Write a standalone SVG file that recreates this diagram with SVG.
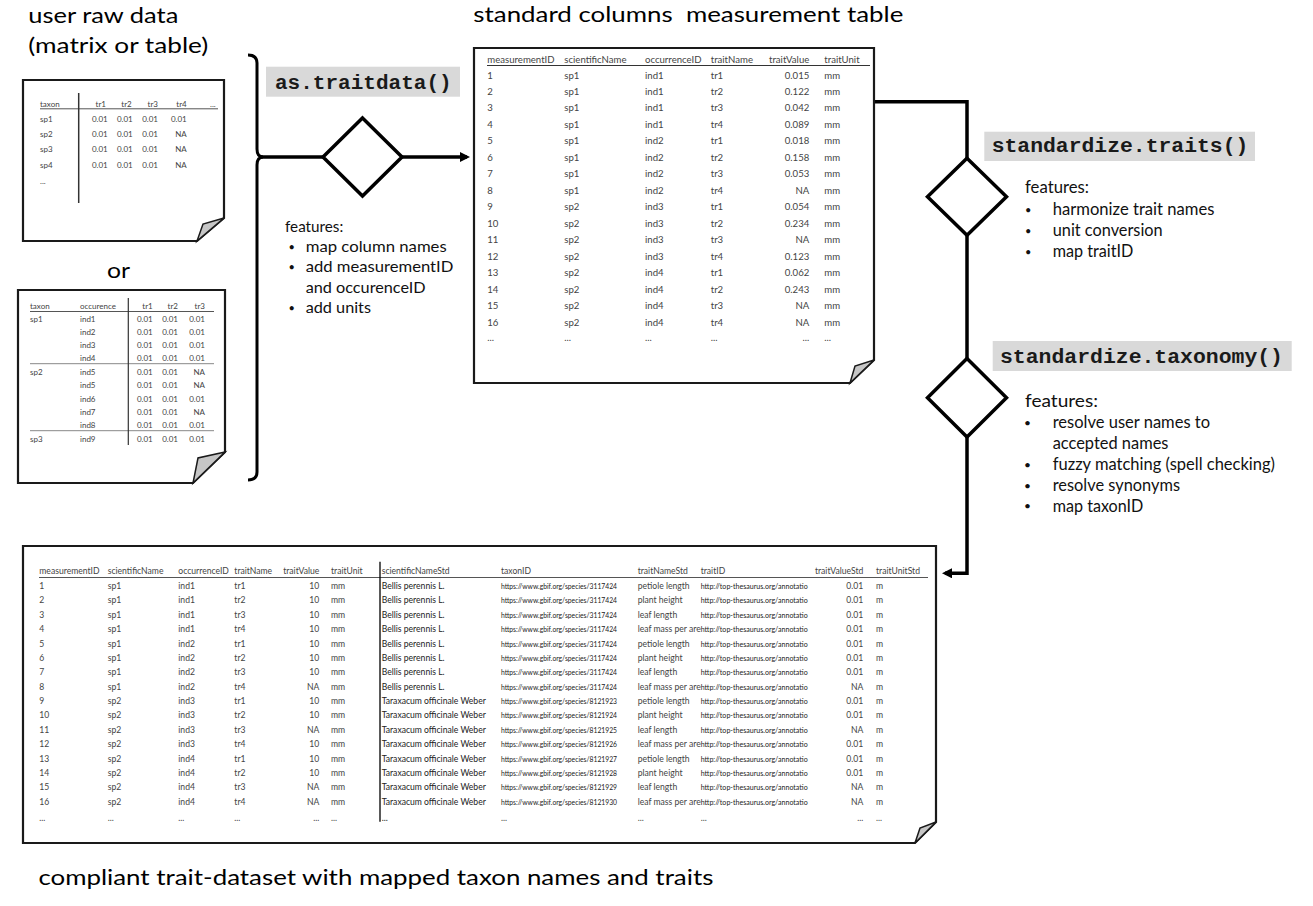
<svg xmlns="http://www.w3.org/2000/svg" width="1313" height="906" viewBox="0 0 1313 906">
<defs>
<style>
.doc{fill:#fff;stroke:#1a1a1a;stroke-width:2.2;stroke-linejoin:miter}
.fold{fill:#c6c6c6;stroke:#1a1a1a;stroke-width:1.5;stroke-linejoin:miter}
.dia{fill:#fff;stroke:#000;stroke-width:3.5;stroke-linejoin:miter}
.conn{fill:none;stroke:#000;stroke-width:3.5;stroke-linejoin:miter}
.brace{fill:none;stroke:#000;stroke-width:3}
text{font-family:Lato,"Liberation Sans",sans-serif}
.big{font-size:22px;fill:#000}
.code{font-family:"Liberation Mono","Courier New",monospace;font-weight:bold;font-size:19.5px;fill:#1a1a1a}
.cbox{fill:#d9d9d9}
.f1{font-size:15px;fill:#111}
.f2{font-size:16.5px;fill:#111}
.f3{font-size:18px;fill:#111}
.bul{font-size:11px;fill:#111}
.ts{font-size:8px;fill:#444}
.tm{font-size:9.6px;fill:#444}
.tb{font-size:8.6px;fill:#444}
.dk{fill:#222}
.url{font-size:6.6px;fill:#1a1a1a}
.r{text-anchor:end}
.hl{stroke:#555;stroke-width:1}
.vl{stroke:#333;stroke-width:1.5}
</style>
<marker id="arr" markerUnits="userSpaceOnUse" markerWidth="10" markerHeight="10" refX="7" refY="5" orient="auto" viewBox="0 0 10 10"><path d="M0,0 L10,5 L0,10 z" fill="#000"/></marker>
</defs>
<rect width="1313" height="906" fill="#fff"/>

<g id="titles">
<text class="big" x="28.3" y="23.3" textLength="150" lengthAdjust="spacingAndGlyphs">user raw data</text>
<text class="big" x="28.3" y="53.3" textLength="180" lengthAdjust="spacingAndGlyphs">(matrix or table)</text>
<text class="big" x="107" y="278" textLength="23" lengthAdjust="spacingAndGlyphs">or</text>
<text class="big" x="473.3" y="21.7" textLength="430" lengthAdjust="spacingAndGlyphs" style="white-space:pre">standard columns  measurement table</text>
<text class="big" x="38.4" y="885" textLength="675" lengthAdjust="spacingAndGlyphs">compliant trait-dataset with mapped taxon names and traits</text>
</g>

<g id="connectors">
<path class="brace" d="M248,55 Q257,55 257,63 V149 Q257,157 263,157 Q257,157 257,165 V472 Q257,480 248,480"/>
<path class="conn" d="M259,157 H323"/>
<path class="conn" d="M402,157 H467" marker-end="url(#arr)"/>
<path class="conn" d="M874,101.7 H967 V158.2"/>
<path class="conn" d="M967,235.2 V358.4"/>
<path class="conn" d="M967,437 V573.3 H945" marker-end="url(#arr)"/>
</g>

<g id="doc-matrix">
<path class="doc" d="M23,80 H224 V218 L197,241 H23 Z"/>
<path class="fold" d="M224,218 L203,224 L197,241 Z"/>
<line class="hl" x1="40" y1="108.8" x2="218" y2="108.8"/>
<line class="vl" x1="78.7" y1="93" x2="78.7" y2="203"/>
<text class="ts" x="40" y="106.7">taxon</text>
<text class="ts r" y="106.7"><tspan x="106">tr1</tspan><tspan x="131.7">tr2</tspan><tspan x="158">tr3</tspan><tspan x="186.7">tr4</tspan></text>
<text class="ts" x="210" y="106.7">...</text>
<text class="ts" y="121.7"><tspan x="40">sp1</tspan><tspan x="40" dy="15.3">sp2</tspan><tspan x="40" dy="15.3">sp3</tspan><tspan x="40" dy="15.3">sp4</tspan><tspan x="40" dy="16.6">...</tspan></text>
<text class="ts r" y="121.7"><tspan x="107.7">0.01</tspan><tspan x="107.7" dy="15.3">0.01</tspan><tspan x="107.7" dy="15.3">0.01</tspan><tspan x="107.7" dy="15.3">0.01</tspan></text>
<text class="ts r" y="121.7"><tspan x="132.7">0.01</tspan><tspan x="132.7" dy="15.3">0.01</tspan><tspan x="132.7" dy="15.3">0.01</tspan><tspan x="132.7" dy="15.3">0.01</tspan></text>
<text class="ts r" y="121.7"><tspan x="158">0.01</tspan><tspan x="158" dy="15.3">0.01</tspan><tspan x="158" dy="15.3">0.01</tspan><tspan x="158" dy="15.3">0.01</tspan></text>
<text class="ts r" y="121.7"><tspan x="186.7">0.01</tspan><tspan x="186.7" dy="15.3">NA</tspan><tspan x="186.7" dy="15.3">NA</tspan><tspan x="186.7" dy="15.3">NA</tspan></text>
</g>

<g id="doc-occurrence">
<path class="doc" d="M18,290 H225 V452 L193,483 H18 Z"/>
<path class="fold" d="M225,452 L198,458 L193,483 Z"/>
<line class="hl" x1="30" y1="311.5" x2="214" y2="311.5"/>
<line class="hl" x1="30" y1="363.7" x2="214" y2="363.7" style="stroke:#888"/>
<line class="hl" x1="30" y1="430.7" x2="214" y2="430.7" style="stroke:#888"/>
<line class="vl" x1="128.3" y1="298" x2="128.3" y2="445" style="stroke-width:1.2"/>
<text class="ts" y="309.3"><tspan x="30">taxon</tspan><tspan x="80">occurence</tspan></text>
<text class="ts r" y="309.3"><tspan x="152.7">tr1</tspan><tspan x="178">tr2</tspan><tspan x="205">tr3</tspan></text>
<text class="ts" x="30"><tspan x="30" y="321.8">sp1</tspan><tspan x="30" y="375.2">sp2</tspan><tspan x="30" y="441.7">sp3</tspan></text>
<text class="ts" y="321.8"><tspan x="80">ind1</tspan><tspan x="80" dy="13.2">ind2</tspan><tspan x="80" dy="13.2">ind3</tspan><tspan x="80" dy="13.2">ind4</tspan><tspan x="80" y="375.2">ind5</tspan><tspan x="80" dy="13.2">ind5</tspan><tspan x="80" dy="13.2">ind6</tspan><tspan x="80" dy="13.2">ind7</tspan><tspan x="80" dy="13.2">ind8</tspan><tspan x="80" y="441.7">ind9</tspan></text>
<text class="ts r" y="321.8"><tspan x="152.7">0.01</tspan><tspan x="152.7" dy="13.2">0.01</tspan><tspan x="152.7" dy="13.2">0.01</tspan><tspan x="152.7" dy="13.2">0.01</tspan><tspan x="152.7" y="375.2">0.01</tspan><tspan x="152.7" dy="13.2">0.01</tspan><tspan x="152.7" dy="13.2">0.01</tspan><tspan x="152.7" dy="13.2">0.01</tspan><tspan x="152.7" dy="13.2">0.01</tspan><tspan x="152.7" y="441.7">0.01</tspan></text>
<text class="ts r" y="321.8"><tspan x="178">0.01</tspan><tspan x="178" dy="13.2">0.01</tspan><tspan x="178" dy="13.2">0.01</tspan><tspan x="178" dy="13.2">0.01</tspan><tspan x="178" y="375.2">0.01</tspan><tspan x="178" dy="13.2">0.01</tspan><tspan x="178" dy="13.2">0.01</tspan><tspan x="178" dy="13.2">0.01</tspan><tspan x="178" dy="13.2">0.01</tspan><tspan x="178" y="441.7">0.01</tspan></text>
<text class="ts r" y="321.8"><tspan x="205">0.01</tspan><tspan x="205" dy="13.2">0.01</tspan><tspan x="205" dy="13.2">0.01</tspan><tspan x="205" dy="13.2">0.01</tspan><tspan x="205" y="375.2">NA</tspan><tspan x="205" dy="13.2">NA</tspan><tspan x="205" dy="13.2">0.01</tspan><tspan x="205" dy="13.2">NA</tspan><tspan x="205" dy="13.2">0.01</tspan><tspan x="205" y="441.7">0.01</tspan></text>
</g>

<g id="node-as-traitdata">
<rect class="cbox" x="266" y="66.7" width="194" height="30"/>
<text class="code" x="275" y="89.3" textLength="176.7" lengthAdjust="spacingAndGlyphs">as.traitdata()</text>
<path class="dia" d="M362.5,118 L402,157 L362.5,196 L323,157 Z"/>
<text class="f1" x="285" y="231.7" textLength="58.3" lengthAdjust="spacingAndGlyphs">features:</text>
<text class="bul" y="251"><tspan x="288.5">•</tspan><tspan x="288.5" dy="20.3">•</tspan><tspan x="288.5" dy="40.6">•</tspan></text>
<text class="f1" x="305.7" y="252" textLength="141" lengthAdjust="spacingAndGlyphs">map column names</text>
<text class="f1" x="305.7" y="272.3" textLength="147.7" lengthAdjust="spacingAndGlyphs">add measurementID</text>
<text class="f1" x="305.7" y="292.7" textLength="120" lengthAdjust="spacingAndGlyphs">and occurenceID</text>
<text class="f1" x="305.7" y="312.9" textLength="65.3" lengthAdjust="spacingAndGlyphs">add units</text>
</g>

<g id="doc-measurement">
<path class="doc" d="M474,48 H874 V360 L850,383 H474 Z"/>
<path class="fold" d="M874,360 L855,366 L850,383 Z"/>
<line class="hl" x1="487" y1="65.5" x2="870" y2="65.5" style="stroke:#333"/>
<text class="tm" y="62.7"><tspan x="487.3">measurementID</tspan><tspan x="564.3">scientificName</tspan><tspan x="645">occurrenceID</tspan><tspan x="710.7">traitName</tspan><tspan x="824.3">traitUnit</tspan></text>
<text class="tm r" x="809.3" y="62.7">traitValue</text>
<text class="tm" y="78.5"><tspan x="487.3">1</tspan><tspan x="487.3" dy="16.47">2</tspan><tspan x="487.3" dy="16.47">3</tspan><tspan x="487.3" dy="16.47">4</tspan><tspan x="487.3" dy="16.47">5</tspan><tspan x="487.3" dy="16.47">6</tspan><tspan x="487.3" dy="16.47">7</tspan><tspan x="487.3" dy="16.47">8</tspan><tspan x="487.3" dy="16.47">9</tspan><tspan x="487.3" dy="16.47">10</tspan><tspan x="487.3" dy="16.47">11</tspan><tspan x="487.3" dy="16.47">12</tspan><tspan x="487.3" dy="16.47">13</tspan><tspan x="487.3" dy="16.47">14</tspan><tspan x="487.3" dy="16.47">15</tspan><tspan x="487.3" dy="16.47">16</tspan><tspan x="487.3" dy="15.3">...</tspan></text>
<text class="tm" y="78.5"><tspan x="564.3">sp1</tspan><tspan x="564.3" dy="16.47">sp1</tspan><tspan x="564.3" dy="16.47">sp1</tspan><tspan x="564.3" dy="16.47">sp1</tspan><tspan x="564.3" dy="16.47">sp1</tspan><tspan x="564.3" dy="16.47">sp1</tspan><tspan x="564.3" dy="16.47">sp1</tspan><tspan x="564.3" dy="16.47">sp1</tspan><tspan x="564.3" dy="16.47">sp2</tspan><tspan x="564.3" dy="16.47">sp2</tspan><tspan x="564.3" dy="16.47">sp2</tspan><tspan x="564.3" dy="16.47">sp2</tspan><tspan x="564.3" dy="16.47">sp2</tspan><tspan x="564.3" dy="16.47">sp2</tspan><tspan x="564.3" dy="16.47">sp2</tspan><tspan x="564.3" dy="16.47">sp2</tspan><tspan x="564.3" dy="15.3">...</tspan></text>
<text class="tm" y="78.5"><tspan x="645">ind1</tspan><tspan x="645" dy="16.47">ind1</tspan><tspan x="645" dy="16.47">ind1</tspan><tspan x="645" dy="16.47">ind1</tspan><tspan x="645" dy="16.47">ind2</tspan><tspan x="645" dy="16.47">ind2</tspan><tspan x="645" dy="16.47">ind2</tspan><tspan x="645" dy="16.47">ind2</tspan><tspan x="645" dy="16.47">ind3</tspan><tspan x="645" dy="16.47">ind3</tspan><tspan x="645" dy="16.47">ind3</tspan><tspan x="645" dy="16.47">ind3</tspan><tspan x="645" dy="16.47">ind4</tspan><tspan x="645" dy="16.47">ind4</tspan><tspan x="645" dy="16.47">ind4</tspan><tspan x="645" dy="16.47">ind4</tspan><tspan x="645" dy="15.3">...</tspan></text>
<text class="tm" y="78.5"><tspan x="710.7">tr1</tspan><tspan x="710.7" dy="16.47">tr2</tspan><tspan x="710.7" dy="16.47">tr3</tspan><tspan x="710.7" dy="16.47">tr4</tspan><tspan x="710.7" dy="16.47">tr1</tspan><tspan x="710.7" dy="16.47">tr2</tspan><tspan x="710.7" dy="16.47">tr3</tspan><tspan x="710.7" dy="16.47">tr4</tspan><tspan x="710.7" dy="16.47">tr1</tspan><tspan x="710.7" dy="16.47">tr2</tspan><tspan x="710.7" dy="16.47">tr3</tspan><tspan x="710.7" dy="16.47">tr4</tspan><tspan x="710.7" dy="16.47">tr1</tspan><tspan x="710.7" dy="16.47">tr2</tspan><tspan x="710.7" dy="16.47">tr3</tspan><tspan x="710.7" dy="16.47">tr4</tspan><tspan x="710.7" dy="15.3">...</tspan></text>
<text class="tm r" y="78.5"><tspan x="809.3">0.015</tspan><tspan x="809.3" dy="16.47">0.122</tspan><tspan x="809.3" dy="16.47">0.042</tspan><tspan x="809.3" dy="16.47">0.089</tspan><tspan x="809.3" dy="16.47">0.018</tspan><tspan x="809.3" dy="16.47">0.158</tspan><tspan x="809.3" dy="16.47">0.053</tspan><tspan x="809.3" dy="16.47">NA</tspan><tspan x="809.3" dy="16.47">0.054</tspan><tspan x="809.3" dy="16.47">0.234</tspan><tspan x="809.3" dy="16.47">NA</tspan><tspan x="809.3" dy="16.47">0.123</tspan><tspan x="809.3" dy="16.47">0.062</tspan><tspan x="809.3" dy="16.47">0.243</tspan><tspan x="809.3" dy="16.47">NA</tspan><tspan x="809.3" dy="16.47">NA</tspan><tspan x="809.3" dy="15.3">...</tspan></text>
<text class="tm" y="78.5"><tspan x="824.3">mm</tspan><tspan x="824.3" dy="16.47">mm</tspan><tspan x="824.3" dy="16.47">mm</tspan><tspan x="824.3" dy="16.47">mm</tspan><tspan x="824.3" dy="16.47">mm</tspan><tspan x="824.3" dy="16.47">mm</tspan><tspan x="824.3" dy="16.47">mm</tspan><tspan x="824.3" dy="16.47">mm</tspan><tspan x="824.3" dy="16.47">mm</tspan><tspan x="824.3" dy="16.47">mm</tspan><tspan x="824.3" dy="16.47">mm</tspan><tspan x="824.3" dy="16.47">mm</tspan><tspan x="824.3" dy="16.47">mm</tspan><tspan x="824.3" dy="16.47">mm</tspan><tspan x="824.3" dy="16.47">mm</tspan><tspan x="824.3" dy="16.47">mm</tspan><tspan x="824.3" dy="15.3">...</tspan></text>
</g>

<g id="node-standardize-traits">
<rect class="cbox" x="984.3" y="131.7" width="270.7" height="29.3"/>
<text class="code" x="991.7" y="151.7" textLength="256.7" lengthAdjust="spacingAndGlyphs">standardize.traits()</text>
<path class="dia" d="M967,158.2 L1006.5,196.7 L967,235.2 L927.5,196.7 Z"/>
<text class="f2" x="1025" y="193.3" textLength="64" lengthAdjust="spacingAndGlyphs">features:</text>
<text class="bul" y="214"><tspan x="1025">•</tspan><tspan x="1025" dy="21">•</tspan><tspan x="1025" dy="20.7">•</tspan></text>
<text class="f2" x="1052.7" y="215" textLength="161.7" lengthAdjust="spacingAndGlyphs">harmonize trait names</text>
<text class="f2" x="1052.7" y="236" textLength="110" lengthAdjust="spacingAndGlyphs">unit conversion</text>
<text class="f2" x="1052.7" y="256.7" textLength="80.7" lengthAdjust="spacingAndGlyphs">map traitID</text>
</g>

<g id="node-standardize-taxonomy">
<rect class="cbox" x="992.7" y="341" width="299" height="30"/>
<text class="code" x="1000" y="363.3" textLength="283" lengthAdjust="spacingAndGlyphs">standardize.taxonomy()</text>
<path class="dia" d="M967,358.4 L1006.5,397.7 L967,437 L927.5,397.7 Z"/>
<text class="f3" x="1025" y="407.3" textLength="73" lengthAdjust="spacingAndGlyphs">features:</text>
<text class="bul" y="427" style="font-size:12px"><tspan x="1024">•</tspan><tspan x="1024" dy="41.7">•</tspan><tspan x="1024" dy="21">•</tspan><tspan x="1024" dy="20.7">•</tspan></text>
<text class="f3" x="1052.7" y="428.3" textLength="157.3" lengthAdjust="spacingAndGlyphs">resolve user names to</text>
<text class="f3" x="1052.7" y="449.3" textLength="115.7" lengthAdjust="spacingAndGlyphs">accepted names</text>
<text class="f3" x="1052.7" y="470" textLength="222.3" lengthAdjust="spacingAndGlyphs">fuzzy matching (spell checking)</text>
<text class="f3" x="1052.7" y="491" textLength="127.3" lengthAdjust="spacingAndGlyphs">resolve synonyms</text>
<text class="f3" x="1052.7" y="511.7" textLength="90.7" lengthAdjust="spacingAndGlyphs">map taxonID</text>
</g>

<g id="doc-compliant">
<path class="doc" d="M23,546 H936 V822 L915,843 H23 Z"/>
<path class="fold" d="M936,822 L920,828 L915,843 Z"/>
<line class="hl" x1="39" y1="577.5" x2="928" y2="577.5"/>
<line class="vl" x1="380" y1="561.7" x2="380" y2="821.7" style="stroke:#000;stroke-width:1.3"/>
<text class="tb" y="574.3"><tspan x="39.3">measurementID</tspan><tspan x="107.7">scientificName</tspan><tspan x="178.3">occurrenceID</tspan><tspan x="234.3">traitName</tspan><tspan x="331">traitUnit</tspan><tspan x="381.7">scientificNameStd</tspan><tspan x="501">taxonID</tspan><tspan x="637.7">traitNameStd</tspan><tspan x="700.7">traitID</tspan><tspan x="876">traitUnitStd</tspan></text>
<text class="tb r" y="574.3"><tspan x="319.3">traitValue</tspan><tspan x="863.3">traitValueStd</tspan></text>
<text class="tb" y="589"><tspan x="39.3">1</tspan><tspan x="39.3" dy="14.38">2</tspan><tspan x="39.3" dy="14.38">3</tspan><tspan x="39.3" dy="14.38">4</tspan><tspan x="39.3" dy="14.38">5</tspan><tspan x="39.3" dy="14.38">6</tspan><tspan x="39.3" dy="14.38">7</tspan><tspan x="39.3" dy="14.38">8</tspan><tspan x="39.3" dy="14.38">9</tspan><tspan x="39.3" dy="14.38">10</tspan><tspan x="39.3" dy="14.38">11</tspan><tspan x="39.3" dy="14.38">12</tspan><tspan x="39.3" dy="14.38">13</tspan><tspan x="39.3" dy="14.38">14</tspan><tspan x="39.3" dy="14.38">15</tspan><tspan x="39.3" dy="14.38">16</tspan><tspan x="39.3" dy="16">...</tspan></text>
<text class="tb" y="589"><tspan x="107.7">sp1</tspan><tspan x="107.7" dy="14.38">sp1</tspan><tspan x="107.7" dy="14.38">sp1</tspan><tspan x="107.7" dy="14.38">sp1</tspan><tspan x="107.7" dy="14.38">sp1</tspan><tspan x="107.7" dy="14.38">sp1</tspan><tspan x="107.7" dy="14.38">sp1</tspan><tspan x="107.7" dy="14.38">sp1</tspan><tspan x="107.7" dy="14.38">sp2</tspan><tspan x="107.7" dy="14.38">sp2</tspan><tspan x="107.7" dy="14.38">sp2</tspan><tspan x="107.7" dy="14.38">sp2</tspan><tspan x="107.7" dy="14.38">sp2</tspan><tspan x="107.7" dy="14.38">sp2</tspan><tspan x="107.7" dy="14.38">sp2</tspan><tspan x="107.7" dy="14.38">sp2</tspan><tspan x="107.7" dy="16">...</tspan></text>
<text class="tb" y="589"><tspan x="178.3">ind1</tspan><tspan x="178.3" dy="14.38">ind1</tspan><tspan x="178.3" dy="14.38">ind1</tspan><tspan x="178.3" dy="14.38">ind1</tspan><tspan x="178.3" dy="14.38">ind2</tspan><tspan x="178.3" dy="14.38">ind2</tspan><tspan x="178.3" dy="14.38">ind2</tspan><tspan x="178.3" dy="14.38">ind2</tspan><tspan x="178.3" dy="14.38">ind3</tspan><tspan x="178.3" dy="14.38">ind3</tspan><tspan x="178.3" dy="14.38">ind3</tspan><tspan x="178.3" dy="14.38">ind3</tspan><tspan x="178.3" dy="14.38">ind4</tspan><tspan x="178.3" dy="14.38">ind4</tspan><tspan x="178.3" dy="14.38">ind4</tspan><tspan x="178.3" dy="14.38">ind4</tspan><tspan x="178.3" dy="16">...</tspan></text>
<text class="tb" y="589"><tspan x="234.3">tr1</tspan><tspan x="234.3" dy="14.38">tr2</tspan><tspan x="234.3" dy="14.38">tr3</tspan><tspan x="234.3" dy="14.38">tr4</tspan><tspan x="234.3" dy="14.38">tr1</tspan><tspan x="234.3" dy="14.38">tr2</tspan><tspan x="234.3" dy="14.38">tr3</tspan><tspan x="234.3" dy="14.38">tr4</tspan><tspan x="234.3" dy="14.38">tr1</tspan><tspan x="234.3" dy="14.38">tr2</tspan><tspan x="234.3" dy="14.38">tr3</tspan><tspan x="234.3" dy="14.38">tr4</tspan><tspan x="234.3" dy="14.38">tr1</tspan><tspan x="234.3" dy="14.38">tr2</tspan><tspan x="234.3" dy="14.38">tr3</tspan><tspan x="234.3" dy="14.38">tr4</tspan><tspan x="234.3" dy="16">...</tspan></text>
<text class="tb r" y="589"><tspan x="319.3">10</tspan><tspan x="319.3" dy="14.38">10</tspan><tspan x="319.3" dy="14.38">10</tspan><tspan x="319.3" dy="14.38">10</tspan><tspan x="319.3" dy="14.38">10</tspan><tspan x="319.3" dy="14.38">10</tspan><tspan x="319.3" dy="14.38">10</tspan><tspan x="319.3" dy="14.38">NA</tspan><tspan x="319.3" dy="14.38">10</tspan><tspan x="319.3" dy="14.38">10</tspan><tspan x="319.3" dy="14.38">NA</tspan><tspan x="319.3" dy="14.38">10</tspan><tspan x="319.3" dy="14.38">10</tspan><tspan x="319.3" dy="14.38">10</tspan><tspan x="319.3" dy="14.38">NA</tspan><tspan x="319.3" dy="14.38">NA</tspan><tspan x="319.3" dy="16">...</tspan></text>
<text class="tb" y="589"><tspan x="331">mm</tspan><tspan x="331" dy="14.38">mm</tspan><tspan x="331" dy="14.38">mm</tspan><tspan x="331" dy="14.38">mm</tspan><tspan x="331" dy="14.38">mm</tspan><tspan x="331" dy="14.38">mm</tspan><tspan x="331" dy="14.38">mm</tspan><tspan x="331" dy="14.38">mm</tspan><tspan x="331" dy="14.38">mm</tspan><tspan x="331" dy="14.38">mm</tspan><tspan x="331" dy="14.38">mm</tspan><tspan x="331" dy="14.38">mm</tspan><tspan x="331" dy="14.38">mm</tspan><tspan x="331" dy="14.38">mm</tspan><tspan x="331" dy="14.38">mm</tspan><tspan x="331" dy="14.38">mm</tspan><tspan x="331" dy="16">...</tspan></text>
<text class="tb dk" y="589"><tspan x="381.7">Bellis perennis L.</tspan><tspan x="381.7" dy="14.38">Bellis perennis L.</tspan><tspan x="381.7" dy="14.38">Bellis perennis L.</tspan><tspan x="381.7" dy="14.38">Bellis perennis L.</tspan><tspan x="381.7" dy="14.38">Bellis perennis L.</tspan><tspan x="381.7" dy="14.38">Bellis perennis L.</tspan><tspan x="381.7" dy="14.38">Bellis perennis L.</tspan><tspan x="381.7" dy="14.38">Bellis perennis L.</tspan><tspan x="381.7" dy="14.38">Taraxacum officinale Weber</tspan><tspan x="381.7" dy="14.38">Taraxacum officinale Weber</tspan><tspan x="381.7" dy="14.38">Taraxacum officinale Weber</tspan><tspan x="381.7" dy="14.38">Taraxacum officinale Weber</tspan><tspan x="381.7" dy="14.38">Taraxacum officinale Weber</tspan><tspan x="381.7" dy="14.38">Taraxacum officinale Weber</tspan><tspan x="381.7" dy="14.38">Taraxacum officinale Weber</tspan><tspan x="381.7" dy="14.38">Taraxacum officinale Weber</tspan><tspan x="381.7" dy="16">...</tspan></text>
<g class="urls">
<text class="url" x="501" y="589" textLength="116" lengthAdjust="spacingAndGlyphs">https://www.gbif.org/species/3117424</text>
<text class="url" x="501" y="603.4" textLength="116" lengthAdjust="spacingAndGlyphs">https://www.gbif.org/species/3117424</text>
<text class="url" x="501" y="617.8" textLength="116" lengthAdjust="spacingAndGlyphs">https://www.gbif.org/species/3117424</text>
<text class="url" x="501" y="632.1" textLength="116" lengthAdjust="spacingAndGlyphs">https://www.gbif.org/species/3117424</text>
<text class="url" x="501" y="646.5" textLength="116" lengthAdjust="spacingAndGlyphs">https://www.gbif.org/species/3117424</text>
<text class="url" x="501" y="660.9" textLength="116" lengthAdjust="spacingAndGlyphs">https://www.gbif.org/species/3117424</text>
<text class="url" x="501" y="675.3" textLength="116" lengthAdjust="spacingAndGlyphs">https://www.gbif.org/species/3117424</text>
<text class="url" x="501" y="689.7" textLength="116" lengthAdjust="spacingAndGlyphs">https://www.gbif.org/species/3117424</text>
<text class="url" x="501" y="704" textLength="116" lengthAdjust="spacingAndGlyphs">https://www.gbif.org/species/8121923</text>
<text class="url" x="501" y="718.4" textLength="116" lengthAdjust="spacingAndGlyphs">https://www.gbif.org/species/8121924</text>
<text class="url" x="501" y="732.8" textLength="116" lengthAdjust="spacingAndGlyphs">https://www.gbif.org/species/8121925</text>
<text class="url" x="501" y="747.2" textLength="116" lengthAdjust="spacingAndGlyphs">https://www.gbif.org/species/8121926</text>
<text class="url" x="501" y="761.6" textLength="116" lengthAdjust="spacingAndGlyphs">https://www.gbif.org/species/8121927</text>
<text class="url" x="501" y="775.9" textLength="116" lengthAdjust="spacingAndGlyphs">https://www.gbif.org/species/8121928</text>
<text class="url" x="501" y="790.3" textLength="116" lengthAdjust="spacingAndGlyphs">https://www.gbif.org/species/8121929</text>
<text class="url" x="501" y="804.7" textLength="116" lengthAdjust="spacingAndGlyphs">https://www.gbif.org/species/8121930</text>
<text class="url" x="700.7" y="589" textLength="107" lengthAdjust="spacingAndGlyphs">http://top-thesaurus.org/annotatio</text>
<text class="url" x="700.7" y="603.4" textLength="107" lengthAdjust="spacingAndGlyphs">http://top-thesaurus.org/annotatio</text>
<text class="url" x="700.7" y="617.8" textLength="107" lengthAdjust="spacingAndGlyphs">http://top-thesaurus.org/annotatio</text>
<text class="url" x="700.7" y="632.1" textLength="107" lengthAdjust="spacingAndGlyphs">http://top-thesaurus.org/annotatio</text>
<text class="url" x="700.7" y="646.5" textLength="107" lengthAdjust="spacingAndGlyphs">http://top-thesaurus.org/annotatio</text>
<text class="url" x="700.7" y="660.9" textLength="107" lengthAdjust="spacingAndGlyphs">http://top-thesaurus.org/annotatio</text>
<text class="url" x="700.7" y="675.3" textLength="107" lengthAdjust="spacingAndGlyphs">http://top-thesaurus.org/annotatio</text>
<text class="url" x="700.7" y="689.7" textLength="107" lengthAdjust="spacingAndGlyphs">http://top-thesaurus.org/annotatio</text>
<text class="url" x="700.7" y="704" textLength="107" lengthAdjust="spacingAndGlyphs">http://top-thesaurus.org/annotatio</text>
<text class="url" x="700.7" y="718.4" textLength="107" lengthAdjust="spacingAndGlyphs">http://top-thesaurus.org/annotatio</text>
<text class="url" x="700.7" y="732.8" textLength="107" lengthAdjust="spacingAndGlyphs">http://top-thesaurus.org/annotatio</text>
<text class="url" x="700.7" y="747.2" textLength="107" lengthAdjust="spacingAndGlyphs">http://top-thesaurus.org/annotatio</text>
<text class="url" x="700.7" y="761.6" textLength="107" lengthAdjust="spacingAndGlyphs">http://top-thesaurus.org/annotatio</text>
<text class="url" x="700.7" y="775.9" textLength="107" lengthAdjust="spacingAndGlyphs">http://top-thesaurus.org/annotatio</text>
<text class="url" x="700.7" y="790.3" textLength="107" lengthAdjust="spacingAndGlyphs">http://top-thesaurus.org/annotatio</text>
<text class="url" x="700.7" y="804.7" textLength="107" lengthAdjust="spacingAndGlyphs">http://top-thesaurus.org/annotatio</text>
</g>
<text class="tb" y="820.7"><tspan x="501">...</tspan><tspan x="637.7">...</tspan><tspan x="700.7">...</tspan><tspan x="876">...</tspan></text>
<text class="tb r" x="863.3" y="820.7">...</text>
<text class="tb" y="589"><tspan x="637.7">petiole length</tspan><tspan x="637.7" dy="14.38">plant height</tspan><tspan x="637.7" dy="14.38">leaf length</tspan><tspan x="637.7" dy="14.38">leaf mass per are</tspan><tspan x="637.7" dy="14.38">petiole length</tspan><tspan x="637.7" dy="14.38">plant height</tspan><tspan x="637.7" dy="14.38">leaf length</tspan><tspan x="637.7" dy="14.38">leaf mass per are</tspan><tspan x="637.7" dy="14.38">petiole length</tspan><tspan x="637.7" dy="14.38">plant height</tspan><tspan x="637.7" dy="14.38">leaf length</tspan><tspan x="637.7" dy="14.38">leaf mass per are</tspan><tspan x="637.7" dy="14.38">petiole length</tspan><tspan x="637.7" dy="14.38">plant height</tspan><tspan x="637.7" dy="14.38">leaf length</tspan><tspan x="637.7" dy="14.38">leaf mass per are</tspan></text>
<text class="tb r" y="589"><tspan x="863.3">0.01</tspan><tspan x="863.3" dy="14.38">0.01</tspan><tspan x="863.3" dy="14.38">0.01</tspan><tspan x="863.3" dy="14.38">0.01</tspan><tspan x="863.3" dy="14.38">0.01</tspan><tspan x="863.3" dy="14.38">0.01</tspan><tspan x="863.3" dy="14.38">0.01</tspan><tspan x="863.3" dy="14.38">NA</tspan><tspan x="863.3" dy="14.38">0.01</tspan><tspan x="863.3" dy="14.38">0.01</tspan><tspan x="863.3" dy="14.38">NA</tspan><tspan x="863.3" dy="14.38">0.01</tspan><tspan x="863.3" dy="14.38">0.01</tspan><tspan x="863.3" dy="14.38">0.01</tspan><tspan x="863.3" dy="14.38">NA</tspan><tspan x="863.3" dy="14.38">NA</tspan></text>
<text class="tb" y="589"><tspan x="876">m</tspan><tspan x="876" dy="14.38">m</tspan><tspan x="876" dy="14.38">m</tspan><tspan x="876" dy="14.38">m</tspan><tspan x="876" dy="14.38">m</tspan><tspan x="876" dy="14.38">m</tspan><tspan x="876" dy="14.38">m</tspan><tspan x="876" dy="14.38">m</tspan><tspan x="876" dy="14.38">m</tspan><tspan x="876" dy="14.38">m</tspan><tspan x="876" dy="14.38">m</tspan><tspan x="876" dy="14.38">m</tspan><tspan x="876" dy="14.38">m</tspan><tspan x="876" dy="14.38">m</tspan><tspan x="876" dy="14.38">m</tspan><tspan x="876" dy="14.38">m</tspan></text>
</g>
</svg>
